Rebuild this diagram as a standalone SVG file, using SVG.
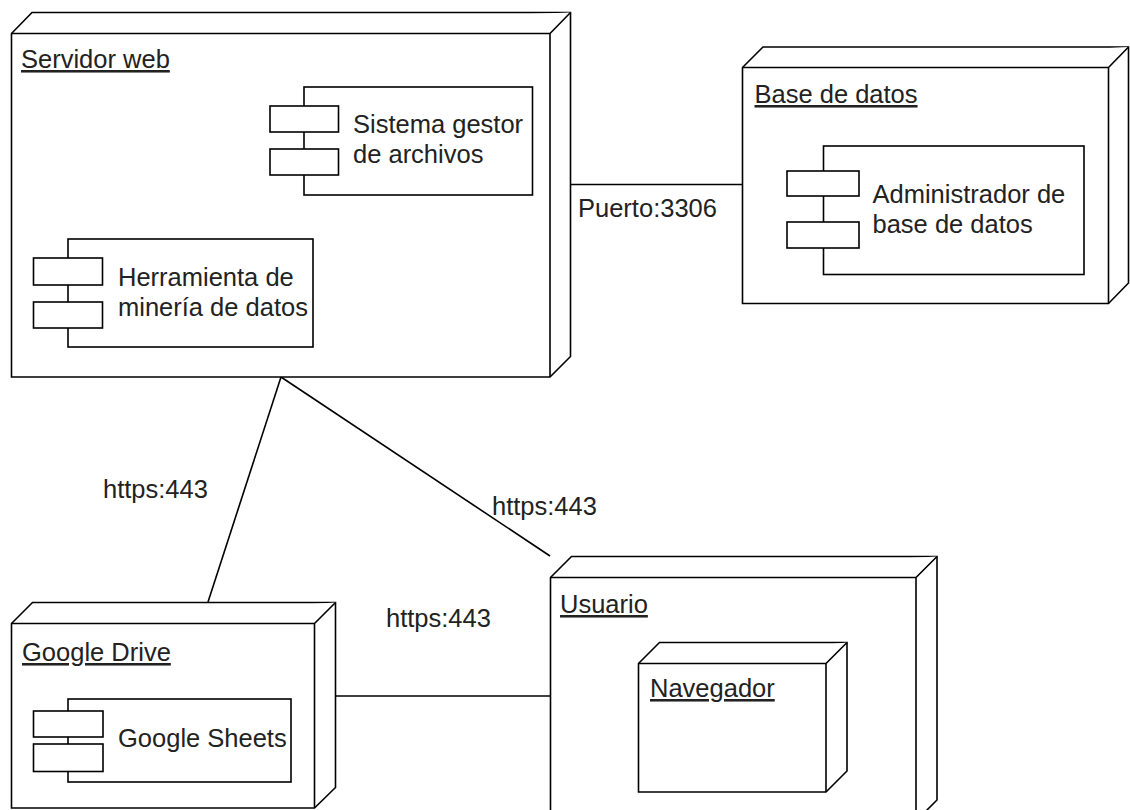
<svg xmlns="http://www.w3.org/2000/svg" width="1130" height="810" viewBox="0 0 1130 810">
<style>
.shape{fill:#fff;stroke:#000;stroke-width:1.6;stroke-linejoin:miter}
.conn{fill:none;stroke:#000;stroke-width:1.6}
text{font-family:"Liberation Sans",Arial,Helvetica,sans-serif;font-size:25.5px;fill:#222}
.title{text-decoration:underline}
</style>
<rect width="1130" height="810" fill="#fff"/>
<g id="connectors">
<line class="conn" x1="570.5" y1="184.5" x2="742.5" y2="184.5"/>
<line class="conn" x1="281" y1="377" x2="208" y2="602"/>
<line class="conn" x1="281" y1="377" x2="550" y2="556"/>
<line class="conn" x1="335.5" y1="696" x2="550.5" y2="696"/>
<text x="578" y="217">Puerto:3306</text>
<text x="103" y="498">https:443</text>
<text x="492" y="515">https:443</text>
<text x="386" y="627">https:443</text>
</g>
<g id="servidor-web">
<path class="shape" d="M11.5 33.5 L32 12.5 L570.5 12.5 L570.5 356.5 L550 377 L11.5 377 Z"/>
<path class="shape" d="M11.5 33.5 L550 33.5 L570.5 12.5 M550 33.5 L550 377"/>
<text class="title" x="21" y="68">Servidor web</text>
</g>
<g id="sistema-gestor">
<rect class="shape" x="304" y="87" width="228.5" height="108"/>
<rect class="shape" x="270" y="106" width="68.5" height="26"/>
<rect class="shape" x="270" y="149" width="68.5" height="26"/>
<text x="353" y="133">Sistema gestor</text>
<text x="353" y="163">de archivos</text>
</g>
<g id="herramienta">
<rect class="shape" x="68" y="239" width="245" height="108"/>
<rect class="shape" x="33.5" y="258" width="69" height="27"/>
<rect class="shape" x="33.5" y="302" width="69" height="26"/>
<text x="118" y="286">Herramienta de</text>
<text x="118" y="316">minería de datos</text>
</g>
<g id="base-de-datos">
<path class="shape" d="M742.5 67.5 L763 47 L1128.5 47 L1128.5 283 L1108.5 303.5 L742.5 303.5 Z"/>
<path class="shape" d="M742.5 67.5 L1108.5 67.5 L1128.5 47 M1108.5 67.5 L1108.5 303.5"/>
<text class="title" x="754.5" y="103">Base de datos</text>
</g>
<g id="administrador">
<rect class="shape" x="823.5" y="146" width="260.5" height="128.5"/>
<rect class="shape" x="787" y="171" width="72" height="25"/>
<rect class="shape" x="787" y="222" width="72" height="26"/>
<text x="872.5" y="203">Administrador de</text>
<text x="872.5" y="233">base de datos</text>
</g>
<g id="google-drive">
<path class="shape" d="M11.5 623.5 L32.5 602.5 L335.5 602.5 L335.5 787.5 L314.5 808 L11.5 808 Z"/>
<path class="shape" d="M11.5 623.5 L314.5 623.5 L335.5 602.5 M314.5 623.5 L314.5 808"/>
<text class="title" x="22" y="661">Google Drive</text>
</g>
<g id="google-sheets">
<rect class="shape" x="68" y="699" width="223" height="83"/>
<rect class="shape" x="33.5" y="711" width="69.5" height="26"/>
<rect class="shape" x="33.5" y="744" width="69.5" height="27.5"/>
<text x="118" y="747">Google Sheets</text>
</g>
<g id="usuario">
<path class="shape" d="M550.5 577.5 L571.5 556.5 L937 556.5 L937 800 L916 821 L550.5 821 Z"/>
<path class="shape" d="M550.5 577.5 L916 577.5 L937 556.5 M916 577.5 L916 821"/>
<text class="title" x="560" y="613">Usuario</text>
</g>
<g id="navegador">
<path class="shape" d="M638.5 663.5 L659.5 642.5 L847 642.5 L847 771 L826 792 L638.5 792 Z"/>
<path class="shape" d="M638.5 663.5 L826 663.5 L847 642.5 M826 663.5 L826 792"/>
<text class="title" x="650" y="697">Navegador</text>
</g>
</svg>
